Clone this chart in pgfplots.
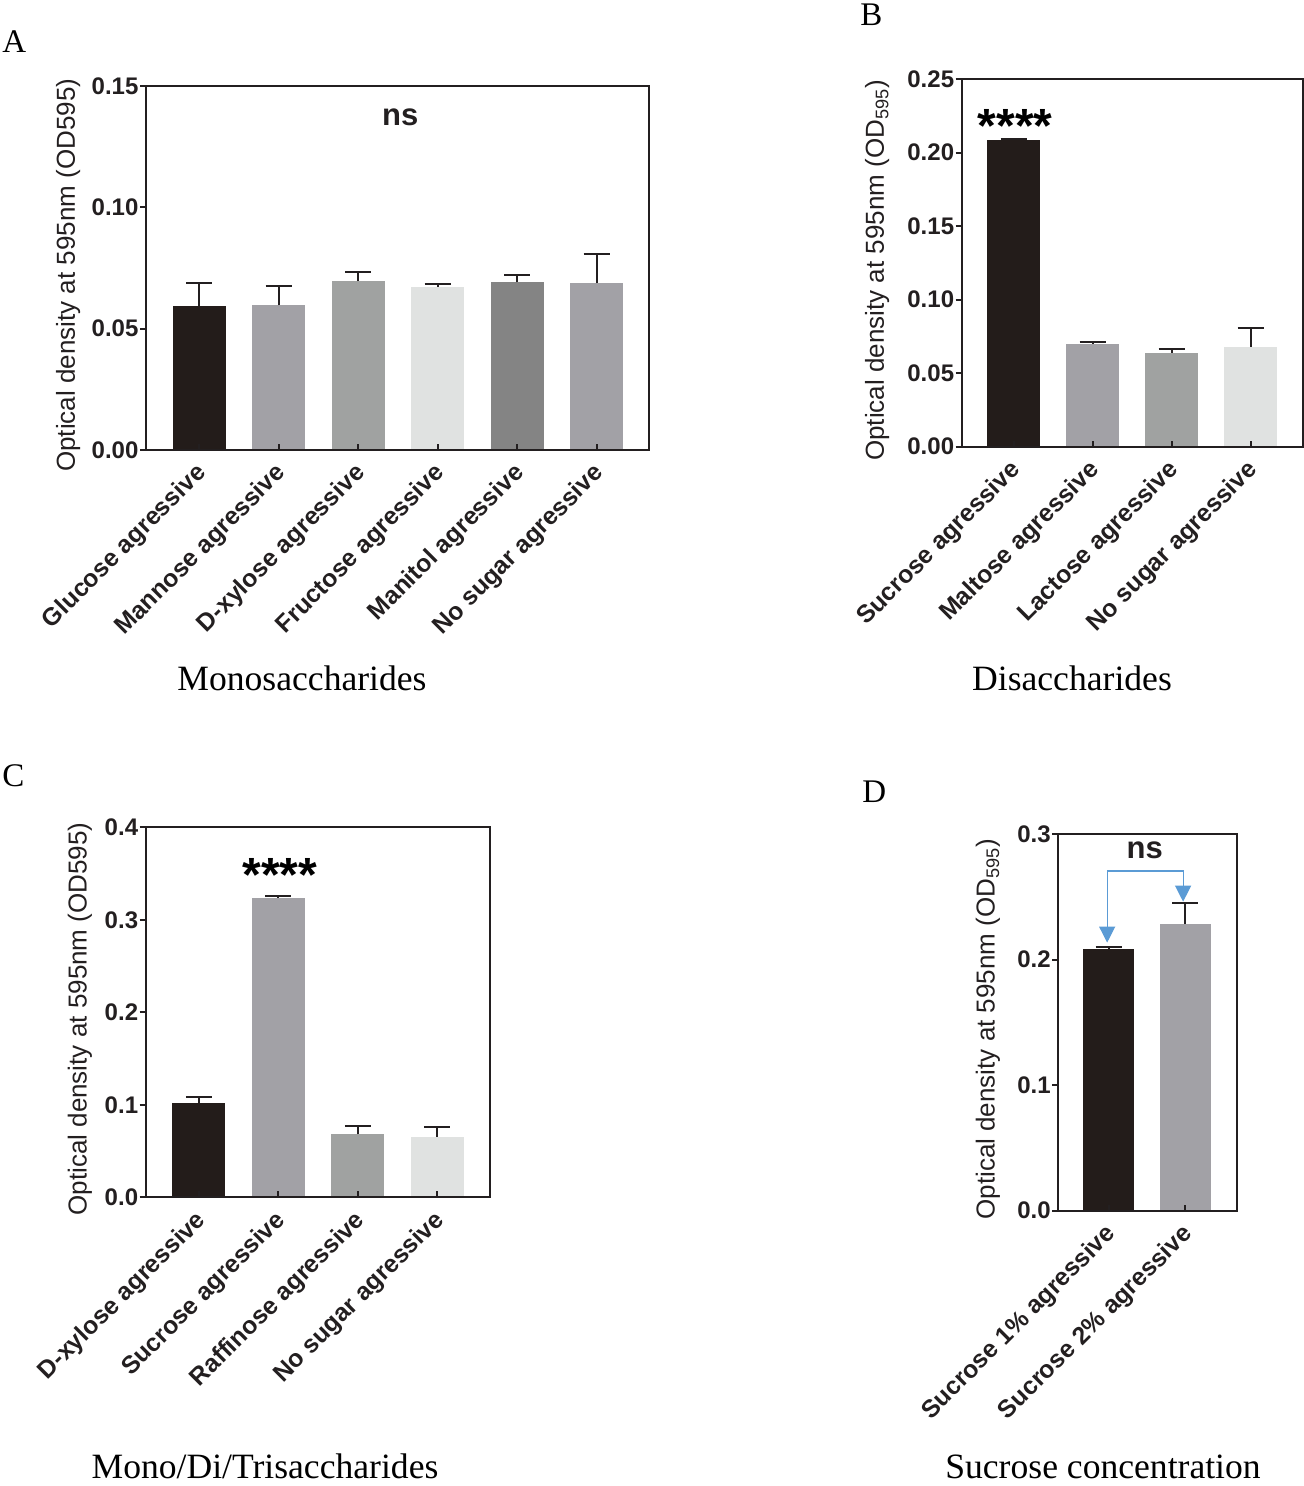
\documentclass[border=0pt]{standalone}
\usepackage{pgfplots}
\pgfplotsset{compat=1.18}
\usetikzlibrary{arrows.meta}
\usepackage{fontspec}
\setmainfont{Liberation Serif}
\setsansfont{Liberation Sans}
\newfontfamily\arialfont{Liberation Sans}

\definecolor{cBlack}{HTML}{231C1A}
\definecolor{cGrayA}{HTML}{A2A1A6}
\definecolor{cGrayB}{HTML}{A0A2A1}
\definecolor{cLight}{HTML}{E0E2E1}
\definecolor{cDark}{HTML}{848484}
\definecolor{axisc}{HTML}{231F20}
\definecolor{arrowblue}{HTML}{5B9BD5}

\pgfplotsset{
  panel/.style={
    scale only axis,
    axis on top,
    axis line style={axisc, line width=1pt},
    tick style={axisc, line width=1pt},
    major tick length=3pt,
    tick align=outside,
    x tick style={yshift=3pt},
    tick pos=left,
    ymin=0,
    bar width=26.5pt,
    tick label style={font=\arialfont\bfseries\fontsize{12}{14}\selectfont, text=axisc},
    /pgf/number format/assume math mode=true,
    y tick label style={inner sep=0.6pt},
    x tick label style={font=\arialfont\bfseries\fontsize{12.4}{14}\selectfont,
      xshift=2.5pt, yshift=-6pt, rotate=45, anchor=east, inner sep=1pt},
    ylabel style={font=\arialfont\fontsize{13}{15}\selectfont, anchor=center, text=axisc},
  },
  bars/.style={ybar, bar shift=0pt, draw=none, fill=#1,
    error bars/.cd, y dir=plus, y explicit,
    error bar style={draw=axisc, line width=1pt},
    error mark options={draw=axisc, line width=1pt, mark size=6.5pt, rotate=90}},
}

\begin{document}
\begin{tikzpicture}
\useasboundingbox (0,0) rectangle (652pt,743pt);

% ---------- Panel A ----------
\begin{axis}[panel, at={(73pt,518pt)}, anchor=south west,
  width=251.5pt, height=182pt,
  xmin=-0.667, xmax=5.66, ymax=0.15,
  xtick={0,1,2,3,4,5},
  xticklabels={Glucose agressive, Mannose agressive, D-xylose agressive, Fructose agressive, Manitol agressive, No sugar agressive},
  ytick={0,0.05,0.10,0.15}, yticklabels={0.00,0.05,0.10,0.15},
  ylabel={Optical density at 595nm (OD595)},
  ylabel style={at={(axis description cs:-0.155,0.48)}},
]
\addplot[bars=cBlack] coordinates {(0,0.0595) +- (0,0.0094)};
\addplot[bars=cGrayA] coordinates {(1,0.0596) +- (0,0.0080)};
\addplot[bars=cGrayB] coordinates {(2,0.0696) +- (0,0.0036)};
\addplot[bars=cLight] coordinates {(3,0.0672) +- (0,0.0013)};
\addplot[bars=cDark]  coordinates {(4,0.0691) +- (0,0.0030)};
\addplot[bars=cGrayA] coordinates {(5,0.0687) +- (0,0.0121)};
\node[font=\arialfont\bfseries\fontsize{15.5}{15.5}\selectfont, text=axisc] at (axis cs:2.53,0.137) {ns};
\end{axis}

% ---------- Panel B ----------
\begin{axis}[panel, at={(480.85pt,519.65pt)}, anchor=south west,
  width=170.5pt, height=183.85pt,
  xmin=-0.657, xmax=3.66, ymax=0.25,
  xtick={0,1,2,3},
  xticklabels={Sucrose agressive, Maltose agressive, Lactose agressive, No sugar agressive},
  ytick={0,0.05,0.10,0.15,0.20,0.25}, yticklabels={0.00,0.05,0.10,0.15,0.20,0.25},
  ylabel={Optical density at 595nm (OD\textsubscript{595})},
  ylabel style={at={(axis description cs:-0.248,0.48)}},
]
\addplot[bars=cBlack] coordinates {(0,0.2083) +- (0,0.0011)};
\addplot[bars=cGrayA] coordinates {(1,0.0700) +- (0,0.0010)};
\addplot[bars=cGrayB] coordinates {(2,0.0639) +- (0,0.0023)};
\addplot[bars=cLight] coordinates {(3,0.0678) +- (0,0.0127)};
\node[font=\arialfont\bfseries\fontsize{24}{24}\selectfont, text=black] at (axis cs:0.02,0.2177) {****};
\end{axis}

% ---------- Panel C ----------
\begin{axis}[panel, at={(72.85pt,144.35pt)}, anchor=south west,
  width=172.15pt, height=185pt,
  xmin=-0.668, xmax=3.663, ymax=0.4,
  xtick={0,1,2,3},
  xticklabels={D-xylose agressive, Sucrose agressive, Raffinose agressive, No sugar agressive},
  ytick={0,0.1,0.2,0.3,0.4}, yticklabels={0.0,0.1,0.2,0.3,0.4},
  ylabel={Optical density at 595nm (OD595)},
  ylabel style={at={(axis description cs:-0.191,0.482)}},
]
\addplot[bars=cBlack] coordinates {(0,0.1023) +- (0,0.0065)};
\addplot[bars=cGrayA] coordinates {(1,0.3236) +- (0,0.0021)};
\addplot[bars=cGrayB] coordinates {(2,0.0681) +- (0,0.0090)};
\addplot[bars=cLight] coordinates {(3,0.0652) +- (0,0.0111)};
\node[font=\arialfont\bfseries\fontsize{24}{24}\selectfont, text=black] at (axis cs:1.02,0.348) {****};
\end{axis}

% ---------- Panel D ----------
\begin{axis}[panel, at={(529.15pt,137.65pt)}, anchor=south west,
  width=89.2pt, height=188.35pt, bar width=25.5pt,
  xmin=-0.657, xmax=1.669, ymax=0.3,
  xtick={0,1},
  xticklabels={Sucrose 1\% agressive, Sucrose 2\% agressive},
  ytick={0,0.1,0.2,0.3}, yticklabels={0.0,0.1,0.2,0.3},
  ylabel={Optical density at 595nm (OD\textsubscript{595})},
  ylabel style={at={(axis description cs:-0.394,0.482)}},
]
\addplot[bars=cBlack] coordinates {(0,0.2082) +- (0,0.0016)};
\addplot[bars=cGrayA] coordinates {(1,0.2283) +- (0,0.0170)};
\draw[arrowblue, line width=0.6pt, {Triangle[width=8pt,length=8pt]}-{Triangle[width=8pt,length=8pt]}]
  (axis cs:-0.02,0.2135) -- (axis cs:-0.02,0.2706) -- (axis cs:0.97,0.2706) -- (axis cs:0.97,0.2461);
\node[font=\arialfont\bfseries\fontsize{15.5}{15.5}\selectfont, text=axisc] at (axis cs:0.47,0.287) {ns};
\end{axis}

% ---------- Panel letters and titles ----------
\node[anchor=base west, inner sep=0pt, font=\fontsize{16.5}{18}\selectfont] at (1pt,716.5pt) {A};
\node[anchor=base west, inner sep=0pt, font=\fontsize{16.5}{18}\selectfont] at (430pt,730pt) {B};
\node[anchor=base west, inner sep=0pt, font=\fontsize{16.5}{18}\selectfont] at (1pt,349.5pt) {C};
\node[anchor=base west, inner sep=0pt, font=\fontsize{16.5}{18}\selectfont] at (431pt,341.5pt) {D};
\node[anchor=base, font=\fontsize{17.8}{19}\selectfont] at (151pt,397.5pt) {Monosaccharides};
\node[anchor=base, font=\fontsize{17.8}{19}\selectfont] at (536pt,397.5pt) {Disaccharides};
\node[anchor=base, inner sep=0pt, font=\fontsize{17.8}{19}\selectfont] at (132.5pt,3.5pt) {Mono/Di/Trisaccharides};
\node[anchor=base, inner sep=0pt, font=\fontsize{17.8}{19}\selectfont] at (551.5pt,3.5pt) {Sucrose concentration};
\end{tikzpicture}
\end{document}
